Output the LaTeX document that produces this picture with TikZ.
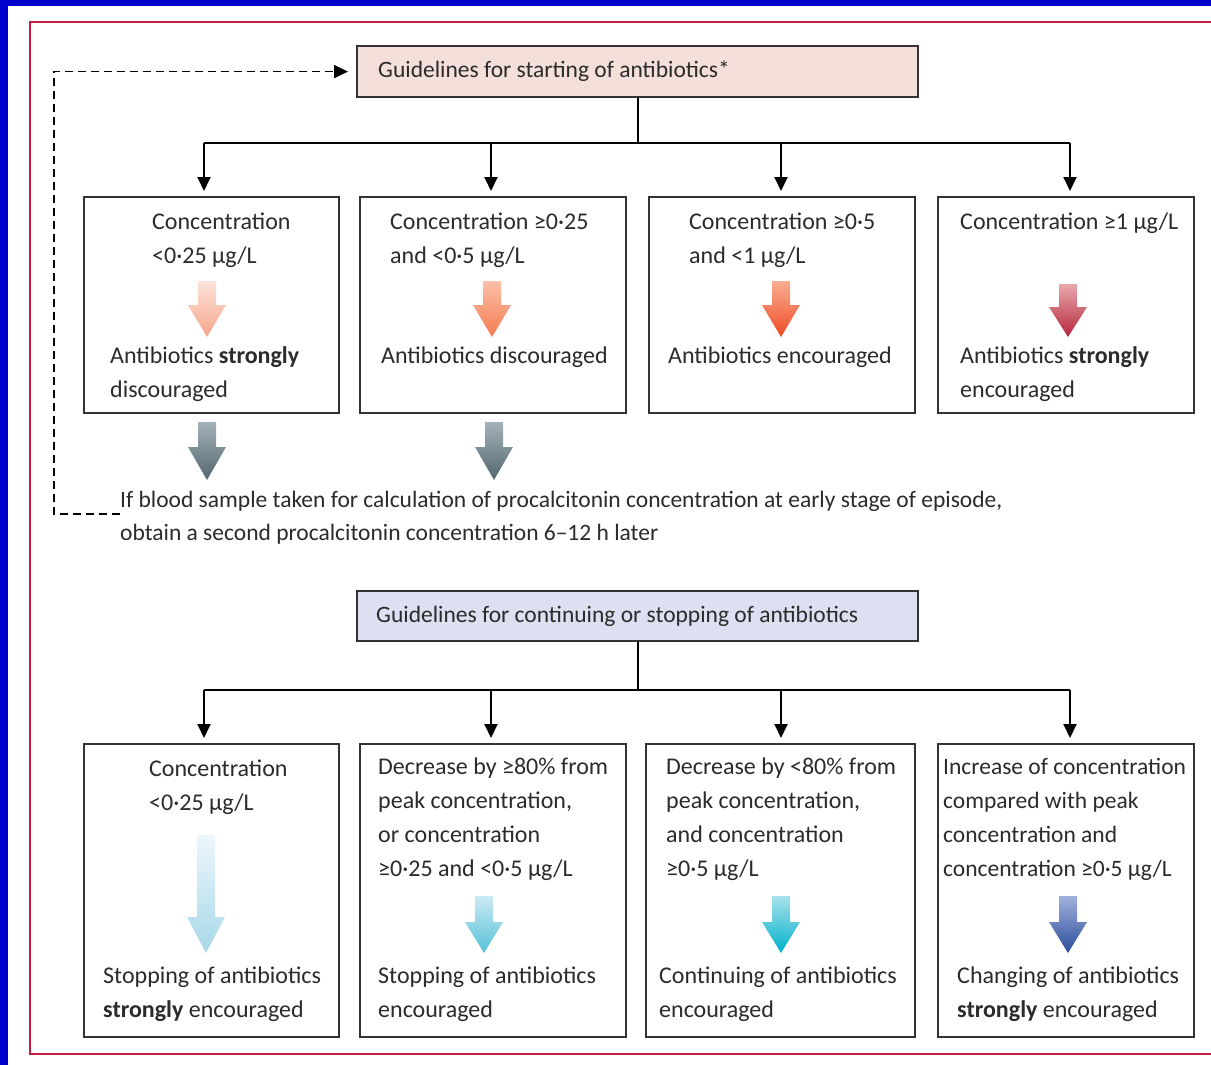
\documentclass[tikz,border=0pt]{standalone}
\usepackage{fontspec}
\setmainfont{Carlito}
\usetikzlibrary{arrows.meta}
\definecolor{bgblue}{HTML}{0000CC}
\definecolor{framered}{HTML}{C81E44}
\definecolor{boxline}{HTML}{333333}
\definecolor{txt}{HTML}{2B2B2B}
\definecolor{pinkfill}{HTML}{F5DFDA}
\definecolor{lavfill}{HTML}{DCE0F0}
\definecolor{aAt}{HTML}{FDE3DA}\definecolor{aAb}{HTML}{F4A58A}
\definecolor{aBt}{HTML}{FBC0A8}\definecolor{aBb}{HTML}{F47B50}
\definecolor{aCt}{HTML}{F9AE92}\definecolor{aCb}{HTML}{EE4A24}
\definecolor{aDt}{HTML}{E8A8AC}\definecolor{aDb}{HTML}{B5263C}
\definecolor{gTt}{HTML}{A4B2B8}\definecolor{gTb}{HTML}{53676F}
\definecolor{cAt}{HTML}{EDF7FB}\definecolor{cAb}{HTML}{A6D8E8}
\definecolor{cBt}{HTML}{CBEAF3}\definecolor{cBb}{HTML}{56C0D8}
\definecolor{cCt}{HTML}{A8E0EC}\definecolor{cCb}{HTML}{00B2CA}
\definecolor{cDt}{HTML}{A2B2DC}\definecolor{cDb}{HTML}{2A4C9A}
\newcommand\gradarr[6]{%
  \shade[top color=#5, bottom color=#6]
    (#1-9,#2) -- (#1+9,#2) -- (#1+9,#3) -- (#1+19,#3) -- (#1,#4)
    -- (#1-19,#3) -- (#1-9,#3) -- cycle;}
\begin{document}
\begin{tikzpicture}[x=1pt,y=-1pt,
  box/.style={draw=boxline, line width=2.2pt, inner sep=0pt, anchor=north west},
  txtblk/.style={anchor=north west, align=left, inner sep=0pt, text=txt,
    font=\fontsize{24}{34}\selectfont},
  conn/.style={line width=2pt, draw=black},
  arr/.style={conn, -{Triangle[length=14pt,width=13pt]}, shorten >=5pt}]
\useasboundingbox (0,0) rectangle (1211,1065);
\fill[bgblue] (0,0) rectangle (1211,1065);
\fill[white] (8,6) rectangle (1211,1065);
\draw[framered, line width=2.5pt] (1215,22) -- (30,22) -- (30,1054) -- (1215,1054);

% headers
\node[box, fill=pinkfill, minimum width=561pt, minimum height=51pt] (top) at (356,45) {};
\node[txtblk, font=\fontsize{23.5}{34}\selectfont] (toptxt) at (378,54) {\strut Guidelines for starting of antibiotics*};
\node[box, fill=lavfill, minimum width=561pt, minimum height=50pt] (mid) at (356,590) {};
\node[txtblk, font=\fontsize{23.5}{34}\selectfont] (midtxt) at (376,598) {\strut Guidelines for continuing or stopping of antibiotics};

% row 1 boxes
\node[box, minimum width=255pt, minimum height=216pt] (b1) at (83,196) {};
\node[box, minimum width=266pt, minimum height=216pt] (b2) at (359,196) {};
\node[box, minimum width=266pt, minimum height=216pt] (b3) at (648,196) {};
\node[box, minimum width=256pt, minimum height=216pt] (b4) at (937,196) {};
% row 2 boxes
\node[box, minimum width=255pt, minimum height=293pt] (c1) at (83,743) {};
\node[box, minimum width=266pt, minimum height=293pt] (c2) at (359,743) {};
\node[box, minimum width=269pt, minimum height=293pt] (c3) at (645,743) {};
\node[box, minimum width=256pt, minimum height=293pt] (c4) at (937,743) {};

% connectors top
\coordinate (busT) at (636,143);
\coordinate (tA) at (204,143);
\coordinate (tB) at (491,143);
\coordinate (tC) at (781,143);
\coordinate (tD) at (1070,143);
\draw[conn] (top.south) -- (top.south |- busT);
\draw[conn] (tA) -- (tD);
\draw[arr] (tA) -- (tA |- b1.north);
\draw[arr] (tB) -- (tB |- b2.north);
\draw[arr] (tC) -- (tC |- b3.north);
\draw[arr] (tD) -- (tD |- b4.north);

\coordinate (busM) at (636,690);
\coordinate (mA) at (204,690);
\coordinate (mB) at (491,690);
\coordinate (mC) at (781,690);
\coordinate (mD) at (1070,690);
\draw[conn] (mid.south) -- (mid.south |- busM);
\draw[conn] (mA) -- (mD);
\draw[arr] (mA) -- (mA |- c1.north);
\draw[arr] (mB) -- (mB |- c2.north);
\draw[arr] (mC) -- (mC |- c3.north);
\draw[arr] (mD) -- (mD |- c4.north);

% row 1 texts
\node[txtblk] (b1t) at (152,205) {\strut Concentration\\<0·25 µg/L};
\node[txtblk] (b1b) at (110,339) {\strut Antibiotics \textbf{strongly}\\discouraged};
\node[txtblk] (b2t) at (390,205) {\strut Concentration ≥0·25\\and <0·5 µg/L};
\node[txtblk] (b2b) at (381,339) {\strut Antibiotics discouraged};
\node[txtblk] (b3t) at (689,205) {\strut Concentration ≥0·5\\and <1 µg/L};
\node[txtblk] (b3b) at (668,339) {\strut Antibiotics encouraged};
\node[txtblk] (b4t) at (960,205) {\strut Concentration ≥1 µg/L};
\node[txtblk] (b4b) at (960,339) {\strut Antibiotics \textbf{strongly}\\encouraged};

% row 1 gradient arrows
\gradarr{207}{281}{305}{337}{aAt}{aAb}
\gradarr{492}{281}{305}{337}{aBt}{aBb}
\gradarr{781}{281}{305}{337}{aCt}{aCb}
\gradarr{1068}{284}{307}{337}{aDt}{aDb}
% grey arrows
\gradarr{207}{422}{447}{480}{gTt}{gTb}
\gradarr{494}{422}{447}{480}{gTt}{gTb}

% note
\node[txtblk, font=\fontsize{23.5}{33}\selectfont] (note) at (120,484)
  {\strut If blood sample taken for calculation of procalcitonin concentration at early stage of episode,\\obtain a second procalcitonin concentration 6–12 h later};
\coordinate (dl) at (54,517);
\draw[conn, line width=1.8pt, dash pattern=on 8pt off 5pt, -{Triangle[length=14pt,width=13pt]}, shorten >=8pt]
  (note.west) -- (note.west -| dl) |- (top.west);

% row 2 texts
\node[txtblk] (c1t) at (149,752) {\strut Concentration\\<0·25 µg/L};
\node[txtblk] (c1b) at (103,959) {\strut Stopping of antibiotics\\\textbf{strongly} encouraged};
\node[txtblk] (c2t) at (378,750) {\strut Decrease by ≥80\% from\\peak concentration,\\or concentration\\≥0·25 and <0·5 µg/L};
\node[txtblk] (c2b) at (378,959) {\strut Stopping of antibiotics\\encouraged};
\node[txtblk] (c3t) at (666,750) {\strut Decrease by <80\% from\\peak concentration,\\and concentration\\≥0·5 µg/L};
\node[txtblk] (c3b) at (659,959) {\strut Continuing of antibiotics\\encouraged};
\node[txtblk, font=\fontsize{23.5}{34}\selectfont] (c4t) at (943,750) {\strut Increase of concentration\\compared with peak\\concentration and\\concentration ≥0·5 µg/L};
\node[txtblk] (c4b) at (957,959) {\strut Changing of antibiotics\\\textbf{strongly} encouraged};

% row 2 gradient arrows
\gradarr{206}{835}{917}{953}{cAt}{cAb}
\gradarr{484}{896}{922}{953}{cBt}{cBb}
\gradarr{781}{896}{922}{953}{cCt}{cCb}
\gradarr{1068}{896}{922}{953}{cDt}{cDb}
\end{tikzpicture}
\end{document}
